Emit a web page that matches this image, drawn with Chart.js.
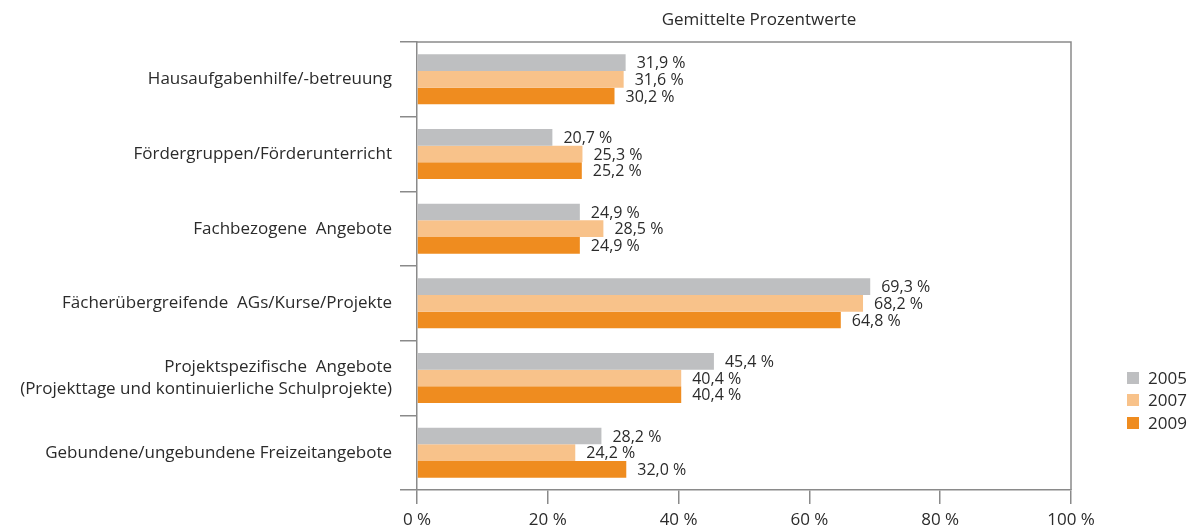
<!DOCTYPE html>
<html><head><meta charset="utf-8">
<script src="https://cdn.jsdelivr.net/npm/chart.js@4.4.0/dist/chart.umd.min.js"></script>
<style>html,body{margin:0;padding:0;background:#fff}#wrap{width:1190px;height:527px;position:relative}</style>
</head><body><div id="wrap"><canvas id="c" width="1190" height="527"></canvas></div>
<script>
const categories = [
  "Hausaufgabenhilfe/-betreuung",
  "Fördergruppen/Förderunterricht",
  "Fachbezogene  Angebote",
  "Fächerübergreifende  AGs/Kurse/Projekte",
  ["Projektspezifische  Angebote", "(Projekttage und kontinuierliche Schulprojekte)"],
  "Gebundene/ungebundene Freizeitangebote"
];
const seriesNames = ["2005", "2007", "2009"];
const values2005 = [31.9, 20.7, 24.9, 69.3, 45.4, 28.2];
const values2007 = [31.6, 25.3, 28.5, 68.2, 40.4, 24.2];
const values2009 = [30.2, 25.2, 24.9, 64.8, 40.4, 32.0];
const xTicks = [0, 20, 40, 60, 80, 100];
const titleText = "Gemittelte Prozentwerte";

const colors = ["#bebfc1", "#f8c28a", "#ef8c1f"];
const FONT = "'Open Sans', sans-serif";
const TEXT = "#2b2b2b";
const AXIS = "#8a8a8a";

const fmt = v => v.toFixed(1).replace('.', ',') + ' %';

const extras = {
  id: 'extras',
  afterDraw(chart) {
    const ctx = chart.ctx, a = chart.chartArea;
    ctx.save();
    // frame top and right
    ctx.strokeStyle = AXIS; ctx.lineWidth = 1.5;
    ctx.beginPath();
    ctx.moveTo(a.left, a.top); ctx.lineTo(a.right, a.top); ctx.lineTo(a.right, a.bottom);
    ctx.stroke();
    // value labels
    ctx.fillStyle = TEXT; ctx.font = "16px " + FONT;
    ctx.textAlign = 'left'; ctx.textBaseline = 'middle';
    chart.data.datasets.forEach((ds, i) => {
      chart.getDatasetMeta(i).data.forEach((bar, j) => {
        ctx.fillText(fmt(ds.data[j]), bar.x + 11, bar.y + 1);
      });
    });
    // title
    ctx.font = "17px " + FONT;
    ctx.textAlign = 'center';
    ctx.fillText(titleText, 759, 20);
    // legend
    ctx.textAlign = 'left';
    const ly = [378, 400, 423];
    seriesNames.forEach((n, i) => {
      ctx.fillStyle = colors[i];
      ctx.fillRect(1127, ly[i] - 6, 12, 12);
      ctx.fillStyle = TEXT;
      ctx.fillText(n, 1148, ly[i] + 1);
    });
    ctx.restore();
  }
};

new Chart(document.getElementById('c'), {
  type: 'bar',
  data: {
    labels: categories,
    datasets: [
      { label: seriesNames[0], data: values2005, backgroundColor: colors[0] },
      { label: seriesNames[1], data: values2007, backgroundColor: colors[1] },
      { label: seriesNames[2], data: values2009, backgroundColor: colors[2] }
    ]
  },
  options: {
    indexAxis: 'y',
    responsive: false,
    animation: false,
    layout: { padding: { left: 0, right: 119, top: 42, bottom: 0 } },
    datasets: { bar: { barPercentage: 1.0, categoryPercentage: 0.67 } },
    plugins: { legend: { display: false }, tooltip: { enabled: false } },
    scales: {
      x: {
        min: 0, max: 100,
        afterBuildTicks(s) { s.ticks = xTicks.map(v => ({ value: v })); },
        afterFit(s) { s.height = 37; },
        grid: { drawOnChartArea: false, tickLength: 14, color: AXIS, lineWidth: 1.5 },
        border: { color: AXIS, width: 1.5 },
        ticks: { padding: 6, color: TEXT, font: { family: FONT, size: 17 }, callback: v => v + ' %' }
      },
      y: {
        afterFit(s) { s.width = 417; },
        grid: { drawOnChartArea: false, tickLength: 17, color: AXIS, lineWidth: 1.5, offset: true },
        border: { color: AXIS, width: 1.5 },
        ticks: { padding: 8, color: TEXT, font: { family: FONT, size: 17, lineHeight: 1.3 } }
      }
    }
  },
  plugins: [extras]
});
</script>
</body></html>
